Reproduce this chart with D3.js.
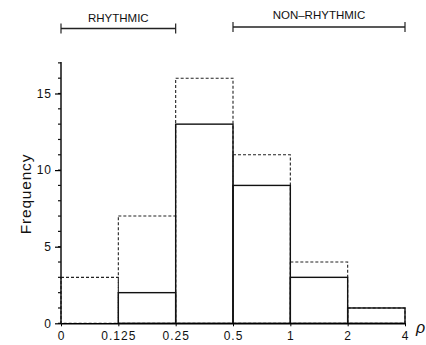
<!DOCTYPE html>
<html>
<head>
<meta charset="utf-8">
<script src="https://d3js.org/d3.v7.min.js"></script>
<style>
    body { margin: 0; background: #fff; }
    text { font-family: "Liberation Sans", Arial, sans-serif; fill: #111; }
</style>
</head>
<body>
<div id="chart"></div>
<script>
    // bin edges of rho (equal width on the plot)
    var edges = ["0", "0.125", "0.25", "0.5", "1", "2", "4"];
    // frequency per bin
    var solidCounts = [0, 2, 13, 9, 3, 1];
    var dashedCounts = [3, 7, 16, 11, 4, 1];
    var yTicks = [0, 5, 10, 15];
    // bracket annotations: [from edge index, to edge index]
    var groups = [
        { label: "RHYTHMIC", from: 0, to: 2 },
        { label: "NON\u2013RHYTHMIC", from: 3, to: 6 }
    ];

    var width = 426, height = 345;
    var x0 = 61, x1 = 405, y0 = 323.3;

    var svg = d3.select("#chart").append("svg")
        .attr("width", width)
        .attr("height", height);

    var xs = d3.scaleLinear().domain([0, edges.length - 1]).range([x0, x1]);
    var ys = d3.scaleLinear().domain([0, 15]).range([y0, 93.5]);

    var bins = solidCounts.map(function (d, i) {
        return { i: i, solid: d, dashed: dashedCounts[i] };
    });

    // dashed histogram (behind)
    svg.append("g").selectAll("rect")
        .data(bins)
        .enter()
        .append("rect")
        .attr("x", function (d) { return xs(d.i); })
        .attr("y", function (d) { return ys(d.dashed); })
        .attr("width", xs(1) - xs(0))
        .attr("height", function (d) { return y0 - ys(d.dashed); })
        .attr("fill", "none")
        .attr("stroke", "#222")
        .attr("stroke-width", 1.1)
        .attr("stroke-dasharray", "3,2");

    // solid histogram
    svg.append("g").selectAll("rect")
        .data(bins.filter(function (d) { return d.solid > 0; }))
        .enter()
        .append("rect")
        .attr("x", function (d) { return xs(d.i); })
        .attr("y", function (d) { return ys(d.solid); })
        .attr("width", xs(1) - xs(0))
        .attr("height", function (d) { return y0 - ys(d.solid); })
        .attr("fill", "none")
        .attr("stroke", "#111")
        .attr("stroke-width", 1.4);

    // Y axis: minor ticks every unit, labels every 5
    var yAxisG = svg.append("g")
        .attr("transform", "translate(" + x0 + ",0)");
    var minor = d3.range(0, 18);
    yAxisG.selectAll(".minor")
        .data(minor)
        .enter()
        .append("line")
        .attr("x1", -3).attr("x2", 0)
        .attr("y1", function (d) { return ys(d); })
        .attr("y2", function (d) { return ys(d); })
        .attr("stroke", "#111");
    yAxisG.call(d3.axisLeft(ys).tickValues(yTicks).tickSize(6).tickPadding(3))
        .call(function (g) {
            g.select(".domain").remove();
            g.selectAll("text").style("font-size", "12px").style("letter-spacing", "1px");
            g.selectAll("line").attr("stroke-width", 1.2);
        });
    yAxisG.append("line")
        .attr("x1", 0).attr("x2", 0)
        .attr("y1", ys(0)).attr("y2", 62)
        .attr("stroke", "#111").attr("stroke-width", 1.5);

    // X axis
    var xAxisG = svg.append("g")
        .attr("transform", "translate(0," + y0 + ")");
    xAxisG.call(d3.axisBottom(xs)
            .tickValues(d3.range(edges.length))
            .tickFormat(function (d) { return edges[d]; })
            .tickSize(3).tickSizeOuter(0).tickPadding(5))
        .call(function (g) {
            g.select(".domain").attr("stroke-width", 1.5);
            g.selectAll("text").style("font-size", "12px").style("letter-spacing", "1px");
        });

    svg.append("text")
        .attr("x", 416).attr("y", 333)
        .style("font-size", "16px")
        .style("font-style", "italic")
        .text("\u03c1");

    // y label
    svg.append("text")
        .attr("transform", "translate(31,194) rotate(-90)")
        .attr("text-anchor", "middle")
        .style("font-size", "15.5px")
        .style("letter-spacing", "0.8px")
        .text("Frequency");

    // bracket annotations
    var ann = svg.append("g").selectAll("g")
        .data(groups)
        .enter()
        .append("g");
    ann.append("line")
        .attr("x1", function (d) { return xs(d.from); })
        .attr("x2", function (d) { return xs(d.to); })
        .attr("y1", function (d, i) { return i == 0 ? 28.5 : 27; })
        .attr("y2", function (d, i) { return i == 0 ? 28.5 : 27; })
        .attr("stroke", "#222").attr("stroke-width", 1.6);
    ann.selectAll(".cap")
        .data(function (d, i) {
            return [xs(d.from), xs(d.to)].map(function (v) { return { x: v, y: i == 0 ? 28.5 : 27 }; });
        })
        .enter()
        .append("line")
        .attr("x1", function (d) { return d.x; })
        .attr("x2", function (d) { return d.x; })
        .attr("y1", function (d) { return d.y - 5; })
        .attr("y2", function (d) { return d.y + 5; })
        .attr("stroke", "#222").attr("stroke-width", 1.2);
    ann.append("text")
        .attr("x", function (d) { return (xs(d.from) + xs(d.to)) / 2; })
        .attr("y", function (d, i) { return i == 0 ? 21.5 : 18.5; })
        .attr("text-anchor", "middle")
        .style("font-size", "11.5px")
        .text(function (d) { return d.label; });
</script>
</body>
</html>
